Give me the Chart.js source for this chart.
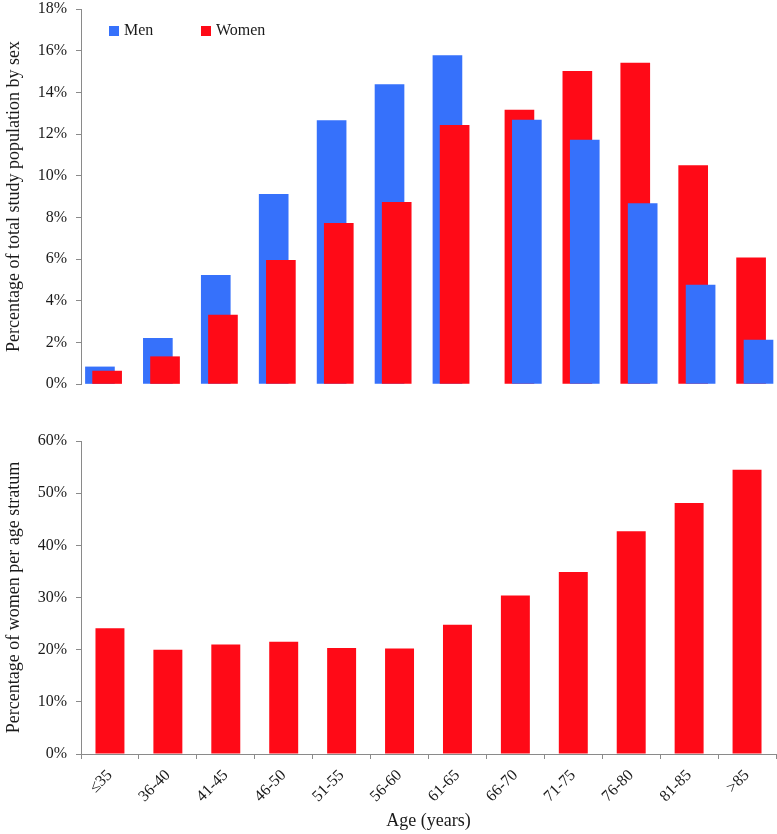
<!DOCTYPE html>
<html>
<head>
<meta charset="utf-8">
<script src="https://cdn.jsdelivr.net/npm/chart.js@4"></script>
<style>
  html, body { margin: 0; padding: 0; background: #fff; }
  #wrap { position: relative; width: 777px; height: 834px; }
  canvas { position: absolute; left: 0; }
  #bySex { top: 0; }
  #womenShare { top: 415px; }
</style>
</head>
<body>
<div id="wrap">
  <canvas id="bySex" width="777" height="410"></canvas>
  <canvas id="womenShare" width="777" height="419"></canvas>
</div>
<script>
// age strata (x categories)
const ageGroups = ["≤35", "36-40", "41-45", "46-50", "51-55", "56-60",
                   "61-65", "66-70", "71-75", "76-80", "81-85", ">85"];

// top panel: % of total study population by sex
const menShare   = [0.82, 2.19, 5.22, 9.10, 12.64, 14.37, 15.76, 12.67, 11.71, 8.66, 4.75, 2.11];
const womenShare = [0.62, 1.31, 3.31, 5.94, 7.71, 8.72, 12.42, 13.15, 15.01, 15.41, 10.48, 6.06];

// bottom panel: % of women per age stratum
const womenPerStratum = [24.1, 20.0, 21.0, 21.5, 20.3, 20.2, 24.8, 30.4, 34.9, 42.7, 48.1, 54.5];

// y axis ticks
const topTicks = { min: 0, max: 18, step: 2 };
const bottomTicks = { min: 0, max: 60, step: 10 };

const BLUE = "#3671FB";
const RED = "#FF0A17";
const AXIS = "#8a8a8a";
const TEXT = "#1a1a1a";
const FONT = "'Liberation Serif', 'DejaVu Serif', serif";

// the taller bar of a pair sits behind on the left, the shorter one in front on the right;
// pairs where women outnumber men are shifted right a little (as in the original figure)
const pairShift = { normal: [-0.173, -0.049], swapped: [0.07, 0.198] };

const swapped = menShare.map((m, i) => womenShare[i] > m);
const backBars = ageGroups.map((_, i) => ({
  x: i + (swapped[i] ? pairShift.swapped[0] : pairShift.normal[0]),
  y: Math.max(menShare[i], womenShare[i])
}));
const frontBars = ageGroups.map((_, i) => ({
  x: i + (swapped[i] ? pairShift.swapped[1] : pairShift.normal[1]),
  y: Math.min(menShare[i], womenShare[i])
}));

Chart.defaults.font.family = FONT;
Chart.defaults.color = TEXT;
Chart.defaults.animation = false;

const insideLegend = {
  id: "insideLegend",
  afterDatasetsDraw(chart, args, opts) {
    const { ctx, chartArea } = chart;
    ctx.save();
    ctx.font = "16px " + FONT;
    ctx.textBaseline = "middle";
    opts.items.forEach((item, k) => {
      const x = chartArea.left + opts.left + k * opts.spacing;
      const y = chartArea.top + opts.top;
      ctx.fillStyle = item.color;
      ctx.fillRect(x, y - opts.box / 2, opts.box, opts.box);
      ctx.fillStyle = TEXT;
      ctx.fillText(item.text, x + opts.box + opts.gap, y);
    });
    ctx.restore();
  }
};

const yAxis = (ticks, title, titlePad) => ({
  min: ticks.min,
  max: ticks.max,
  afterFit(scale) {
    scale.width = 81;
    // plot area edges are set by layout padding, not by label overhang
    scale.paddingTop = 0;
    scale.paddingBottom = 0;
  },
  border: { display: true, color: AXIS, width: 1 },
  grid: { display: true, drawOnChartArea: false, drawTicks: true, tickLength: 5, color: AXIS },
  ticks: {
    stepSize: ticks.step,
    padding: 9,
    font: { size: 16 },
    callback: (v) => v + "%"
  },
  title: { display: true, text: title, font: { size: 18 }, padding: { top: 3, bottom: 0 } }
});

new Chart(document.getElementById("bySex"), {
  type: "bar",
  data: {
    datasets: [
      { label: "front", data: frontBars, order: 1,
        backgroundColor: swapped.map(s => s ? BLUE : RED) },
      { label: "back", data: backBars, order: 2,
        backgroundColor: swapped.map(s => s ? RED : BLUE) }
    ]
  },
  options: {
    responsive: false,
    layout: { padding: { top: 9, bottom: 26, left: 0, right: 1 } },
    datasets: { bar: { grouped: false, barThickness: 29, borderWidth: 0 } },
    plugins: {
      legend: { display: false },
      tooltip: { enabled: false },
      insideLegend: {
        items: [{ text: "Men", color: BLUE }, { text: "Women", color: RED }],
        left: 28, top: 22, spacing: 92, box: 10, gap: 5
      }
    },
    scales: {
      x: { type: "linear", offset: false, min: -0.5, max: ageGroups.length - 0.5, display: false },
      y: yAxis(topTicks, "Percentage of total study population by sex")
    }
  },
  plugins: [insideLegend]
});

new Chart(document.getElementById("womenShare"), {
  type: "bar",
  data: {
    labels: ageGroups,
    datasets: [{
      label: "Women",
      data: womenPerStratum,
      backgroundColor: RED,
      borderWidth: 0,
      categoryPercentage: 1,
      barPercentage: 0.5
    }]
  },
  options: {
    responsive: false,
    layout: { padding: { top: 26, bottom: 0, left: 0, right: 1 } },
    plugins: { legend: { display: false }, tooltip: { enabled: false } },
    scales: {
      x: {
        afterFit(scale) { scale.height = 80; },
        border: { display: true, color: AXIS, width: 1 },
        grid: { display: true, offset: true, drawOnChartArea: false, drawTicks: true, tickLength: 5, color: AXIS },
        ticks: { minRotation: 45, maxRotation: 45, padding: 7, font: { size: 16 } },
        title: { display: true, text: "Age (years)", font: { size: 18 }, padding: { top: 0, bottom: 2 } }
      },
      y: yAxis(bottomTicks, "Percentage of women per age stratum")
    }
  }
});
</script>
</body>
</html>
